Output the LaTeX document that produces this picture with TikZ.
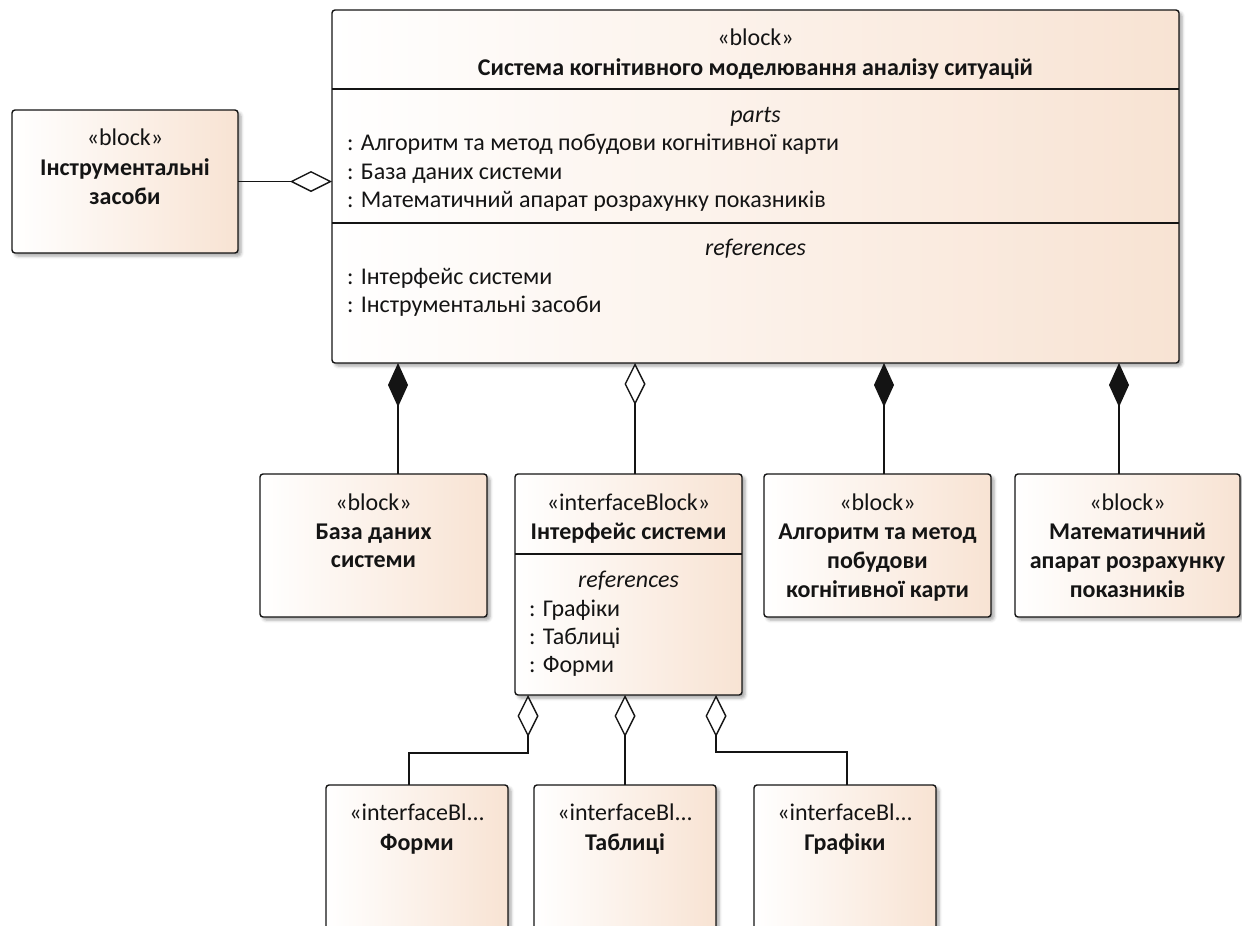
\documentclass[tikz,border=0pt]{standalone}
\usepackage{fontspec}
\setmainfont{Carlito}
\usetikzlibrary{arrows.meta,shadows.blur}
\definecolor{peach}{RGB}{248,227,211}
\definecolor{ink}{RGB}{20,20,20}

\tikzset{
  blockbox/.style={draw=ink, line width=1.4pt, rounded corners=3pt,
    left color=white, right color=peach, outer sep=0pt, inner sep=0pt,
    anchor=north west,
    blur shadow={shadow xshift=3pt, shadow yshift=-3pt,
      shadow blur radius=3pt, shadow opacity=35}},
  sepline/.style={draw=ink, line width=1.4pt},
  txt/.style={inner sep=0pt, text=ink, font=\fontsize{24}{29}\selectfont, anchor=mid, yshift=-4pt},
  ltxt/.style={txt, anchor=mid west},
  btxt/.style={txt, font=\fontsize{24}{29}\selectfont\bfseries},
  itxt/.style={txt, font=\fontsize{24}{29}\selectfont\itshape},
  compline/.style={draw=ink, line width=1.4pt,
    {Diamond[length=44pt, width=20pt, fill=ink]}-},
  aggline/.style={draw=ink, line width=1.4pt,
    {Diamond[length=42pt, width=21pt, fill=white]}-},
}

\begin{document}
\begin{tikzpicture}[x=1pt, y=-1pt]
\useasboundingbox (0,0) rectangle (1242,926);
\clip (0,0) rectangle (1242,926);

% ---- system block ----
\node[blockbox, minimum width=847pt, minimum height=353pt] (main) at (332,10) {};
\draw[sepline] (main.west |- 0,89) -- (main.east |- 0,89);
\draw[sepline] (main.west |- 0,223) -- (main.east |- 0,223);
\node[txt]  (mst)    at (755.5,39)  {«block»};
\node[btxt] (mtitle) at (755.5,69)  {Система когнітивного моделювання аналізу ситуацій};
\node[itxt] (mparts) at (755.5,116) {parts};
\node[ltxt] (mp1)    at (347,144)   {: Алгоритм та метод побудови когнітивної карти};
\node[ltxt] (mp2)    at (347,173)   {: База даних системи};
\node[ltxt] (mp3)    at (347,201)   {: Математичний апарат розрахунку показників};
\node[itxt] (mrefs)  at (755.5,249) {references};
\node[ltxt] (mr1)    at (347,278)   {: Інтерфейс системи};
\node[ltxt] (mr2)    at (347,306)   {: Інструментальні засоби};

% ---- tools block ----
\node[blockbox, minimum width=226pt, minimum height=143pt] (inst) at (12,110) {};
\node[txt]  (ist) at (125,139) {«block»};
\node[btxt] (in1) at (125,169) {Інструментальні};
\node[btxt] (in2) at (125,198) {засоби};

% ---- part blocks ----
\node[blockbox, minimum width=227pt, minimum height=143pt] (db) at (260,474) {};
\node[txt]  (dbst) at (373.5,504) {«block»};
\node[btxt] (db1)  at (373.5,533) {База даних};
\node[btxt] (db2)  at (373.5,561) {системи};

\node[blockbox, minimum width=227pt, minimum height=221pt] (iface) at (515,474) {};
\draw[sepline] (iface.west |- 0,554) -- (iface.east |- 0,554);
\node[txt]  (ifst)  at (628.5,504) {«interfaceBlock»};
\node[btxt] (if1)   at (628.5,533) {Інтерфейс системи};
\node[itxt] (ifref) at (628.5,581) {references};
\node[ltxt] (ifr1)  at (529,610)   {: Графіки};
\node[ltxt] (ifr2)  at (529,638)   {: Таблиці};
\node[ltxt] (ifr3)  at (529,666)   {: Форми};

\node[blockbox, minimum width=227pt, minimum height=143pt] (algo) at (764,474) {};
\node[txt]  (alst) at (877.5,504) {«block»};
\node[btxt] (al1)  at (877.5,533) {Алгоритм та метод};
\node[btxt] (al2)  at (877.5,562) {побудови};
\node[btxt] (al3)  at (877.5,591) {когнітивної карти};

\node[blockbox, minimum width=225pt, minimum height=143pt] (math) at (1015,474) {};
\node[txt]  (mast) at (1127.5,504) {«block»};
\node[btxt] (ma1)  at (1127.5,533) {Математичний};
\node[btxt] (ma2)  at (1127.5,562) {апарат розрахунку};
\node[btxt] (ma3)  at (1127.5,591) {показників};

% ---- interface parts ----
\node[blockbox, minimum width=182pt, minimum height=200pt] (forms) at (326,785) {};
\node[txt]  (fost) at (417,814) {«interfaceBl...};
\node[btxt] (fo1)  at (417,844) {Форми};

\node[blockbox, minimum width=182pt, minimum height=200pt] (tables) at (534,785) {};
\node[txt]  (tast) at (625,814) {«interfaceBl...};
\node[btxt] (ta1)  at (625,844) {Таблиці};

\node[blockbox, minimum width=182pt, minimum height=200pt] (graphs) at (754,785) {};
\node[txt]  (grst) at (845,814) {«interfaceBl...};
\node[btxt] (gr1)  at (845,844) {Графіки};

% ---- connectors ----
\draw[aggline] (main.west |- inst.east) -- (inst.east);

\coordinate (dbtop)   at ([xshift=24.5]db.north);
\coordinate (iftop)   at ([xshift=6.5]iface.north);
\coordinate (altop)   at ([xshift=6.5]algo.north);
\coordinate (matop)   at ([xshift=-8.5]math.north);
\draw[compline] (dbtop |- main.south) -- (dbtop);
\draw[aggline]  (iftop |- main.south) -- (iftop);
\draw[compline] (altop |- main.south) -- (altop);
\draw[compline] (matop |- main.south) -- (matop);

\coordinate (ifforms)  at ([xshift=-100.5]iface.south);
\coordinate (ifgraphs) at ([xshift=87.5]iface.south);
\coordinate (fotop)    at ([xshift=-8]forms.north);
\coordinate (grtop)    at ([xshift=2]graphs.north);
\draw[aggline] (ifforms) -- ++(0,58) -| (fotop);
\draw[aggline] (tables.north |- iface.south) -- (tables.north);
\draw[aggline] (ifgraphs) -- ++(0,57) -| (grtop);
\end{tikzpicture}
\end{document}
